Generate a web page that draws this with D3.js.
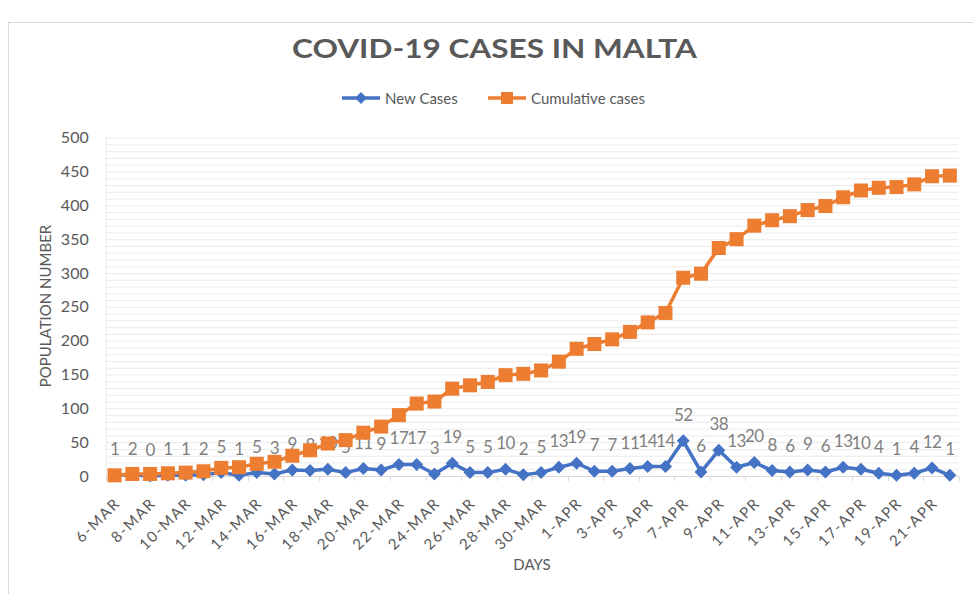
<!DOCTYPE html>
<html>
<head>
<meta charset="utf-8">
<script src="https://cdn.jsdelivr.net/npm/d3@7"></script>
<style>
  html, body { margin: 0; padding: 0; background: #fff; }
  svg { display: block; font-family: Lato, 'Open Sans', sans-serif; }
</style>
</head>
<body>
<svg id="chart" width="973" height="594"></svg>
<script>
const categories = [
    '6-MAR', '7-MAR', '8-MAR', '9-MAR', '10-MAR', '11-MAR', '12-MAR', '13-MAR', '14-MAR', '15-MAR',
    '16-MAR', '17-MAR', '18-MAR', '19-MAR', '20-MAR', '21-MAR', '22-MAR', '23-MAR', '24-MAR', '25-MAR',
    '26-MAR', '27-MAR', '28-MAR', '29-MAR', '30-MAR', '31-MAR', '1-APR', '2-APR', '3-APR', '4-APR',
    '5-APR', '6-APR', '7-APR', '8-APR', '9-APR', '10-APR', '11-APR', '12-APR', '13-APR', '14-APR',
    '15-APR', '16-APR', '17-APR', '18-APR', '19-APR', '20-APR', '21-APR', '22-APR'
];
const newCases = [
    1, 2, 0, 1, 1, 2, 5, 1, 5, 3, 9, 8, 10, 5, 11, 9, 17, 17, 3, 19, 5, 5, 10, 2,
    5, 13, 19, 7, 7, 11, 14, 14, 52, 6, 38, 13, 20, 8, 6, 9, 6, 13, 10, 4, 1, 4, 12, 1
];
const cumulativeCases = [
    1, 3, 3, 4, 5, 7, 12, 13, 18, 21, 30, 38, 48, 53, 64, 73, 90, 107, 110, 129, 134, 139, 149, 151,
    156, 169, 188, 195, 202, 213, 227, 241, 293, 299, 337, 350, 370, 378, 384, 393, 399, 412, 422, 426,
    427, 431, 443, 444
];
const yTicks = [0, 50, 100, 150, 200, 250, 300, 350, 400, 450, 500];
const gridValues = [10, 20, 30, 40, 50, 60, 70, 80, 90, 100, 110, 120, 130, 140, 150, 160, 170, 180, 190, 200,
    210, 220, 230, 240, 250, 260, 270, 280, 290, 300, 310, 320, 330, 340, 350, 360, 370, 380, 390, 400,
    410, 420, 430, 440, 450, 460, 470, 480, 490, 500];

document.addEventListener('DOMContentLoaded', function () {
    const svg = d3.select('#chart');
    const plotLeft = 105.7, plotRight = 958.7, plotTop = 137.7, plotBottom = 476;
    const blue = '#4472c4';
    const orange = '#ed7d31';

    const x = d3.scaleBand().domain(categories).range([plotLeft, plotRight]).padding(0);
    const y = d3.scaleLinear().domain([0, 500]).range([plotBottom, plotTop]);
    const cx = d => x(d) + x.bandwidth() / 2;

    // frame
    svg.append('rect')
        .attr('x', 8.5).attr('y', 22.5).attr('width', 1000).attr('height', 620)
        .attr('fill', '#fff').attr('stroke', '#d9d9d9');

    // title
    svg.append('text')
        .attr('x', 494.5).attr('y', 58)
        .attr('text-anchor', 'middle')
        .attr('font-size', 27).attr('font-weight', 'bold')
        .attr('fill', '#595959')
        .attr('textLength', 405).attr('lengthAdjust', 'spacingAndGlyphs')
        .text('COVID-19 CASES IN MALTA');

    // legend
    const legend = [
        { name: 'New Cases', color: blue, shape: 'diamond', x: 342 },
        { name: 'Cumulative cases', color: orange, shape: 'square', x: 488 }
    ];
    const lg = svg.selectAll('.legend').data(legend).join('g')
        .attr('class', 'legend')
        .attr('transform', d => `translate(${d.x},98)`);
    lg.append('line').attr('x1', 0).attr('x2', 38).attr('stroke', d => d.color).attr('stroke-width', 3.5);
    lg.append('path')
        .attr('transform', 'translate(19,0)')
        .attr('d', d => d.shape === 'diamond' ? 'M0,-6L6,0L0,6L-6,0Z' : 'M-6,-6H6V6H-6Z')
        .attr('fill', d => d.color);
    lg.append('text').attr('x', 43).attr('y', 5.5)
        .attr('font-size', 15).attr('fill', '#595959')
        .text(d => d.name);

    // gridlines
    svg.append('g').selectAll('line').data(gridValues).join('line')
        .attr('x1', plotLeft).attr('x2', plotRight)
        .attr('y1', d => y(d) + 0.5).attr('y2', d => y(d) + 0.5)
        .attr('stroke', '#ebebeb').attr('stroke-width', 1);
    svg.append('line')
        .attr('x1', plotLeft + 0.5).attr('x2', plotLeft + 0.5).attr('y1', plotTop).attr('y2', plotBottom)
        .attr('stroke', '#ebebeb');

    // y axis
    const yAxis = svg.append('g')
        .attr('transform', `translate(${plotLeft - 17},0)`)
        .call(d3.axisLeft(y).tickValues(yTicks).tickSize(0).tickPadding(0));
    yAxis.select('.domain').remove();
    yAxis.selectAll('text')
        .attr('font-family', 'Lato, sans-serif')
        .attr('font-size', 16).attr('fill', '#595959');

    // x axis labels
    const xAxis = svg.append('g')
        .attr('transform', `translate(0,${plotBottom})`)
        .call(d3.axisBottom(x).tickValues(categories.filter((d, i) => i % 2 === 0)).tickSize(0));
    xAxis.select('.domain').remove();
    xAxis.selectAll('text')
        .attr('font-family', 'Lato, sans-serif')
        .attr('font-size', 15).attr('fill', '#595959')
        .attr('letter-spacing', 1.6)
        .attr('text-anchor', 'end')
        .attr('dy', 0)
        .attr('transform', 'translate(4.5,26) rotate(-45)');

    // x tick marks between categories
    const tickEdges = categories.filter((d, i) => i % 2 === 0).map(d => x(d)).concat([plotRight]);
    svg.append('g').selectAll('line').data(tickEdges).join('line')
        .attr('x1', d => Math.round(d) + 0.5).attr('x2', d => Math.round(d) + 0.5)
        .attr('y1', plotBottom).attr('y2', plotBottom + 5)
        .attr('stroke', '#d9d9d9');
    svg.append('line')
        .attr('x1', plotLeft).attr('x2', plotRight).attr('y1', plotBottom + 0.5).attr('y2', plotBottom + 0.5)
        .attr('stroke', '#d9d9d9');

    // axis titles
    svg.append('text')
        .attr('transform', 'translate(51,306) rotate(-90)')
        .attr('text-anchor', 'middle')
        .attr('font-size', 15).attr('fill', '#595959')
        .text('POPULATION NUMBER');
    svg.append('text')
        .attr('x', 532).attr('y', 570)
        .attr('text-anchor', 'middle')
        .attr('font-size', 15).attr('fill', '#595959')
        .text('DAYS');

    const line = d3.line().x(d => cx(d[0])).y(d => y(d[1]));
    const newPts = categories.map((c, i) => [c, newCases[i]]);
    const cumPts = categories.map((c, i) => [c, cumulativeCases[i]]);

    // new cases series
    svg.append('path').datum(newPts)
        .attr('d', line).attr('fill', 'none')
        .attr('stroke', blue).attr('stroke-width', 3.5).attr('stroke-linejoin', 'round');
    svg.append('g').selectAll('path').data(newPts).join('path')
        .attr('transform', d => `translate(${cx(d[0])},${y(d[1])})`)
        .attr('d', 'M0,-6.5L6.5,0L0,6.5L-6.5,0Z')
        .attr('fill', blue);
    svg.append('g').selectAll('text').data(newPts).join('text')
        .attr('x', d => cx(d[0])).attr('y', d => y(d[1]) - 20)
        .attr('text-anchor', 'middle')
        .attr('font-size', 17).attr('fill', '#7f7f7f')
        .attr('letter-spacing', -0.5)
        .text(d => d[1]);

    // cumulative series
    svg.append('path').datum(cumPts)
        .attr('d', line).attr('fill', 'none')
        .attr('stroke', orange).attr('stroke-width', 3.5).attr('stroke-linejoin', 'round');
    svg.append('g').selectAll('rect').data(cumPts).join('rect')
        .attr('x', d => cx(d[0]) - 7).attr('y', d => y(d[1]) - 7)
        .attr('width', 14).attr('height', 14)
        .attr('fill', orange);
});
</script>
</body>
</html>
